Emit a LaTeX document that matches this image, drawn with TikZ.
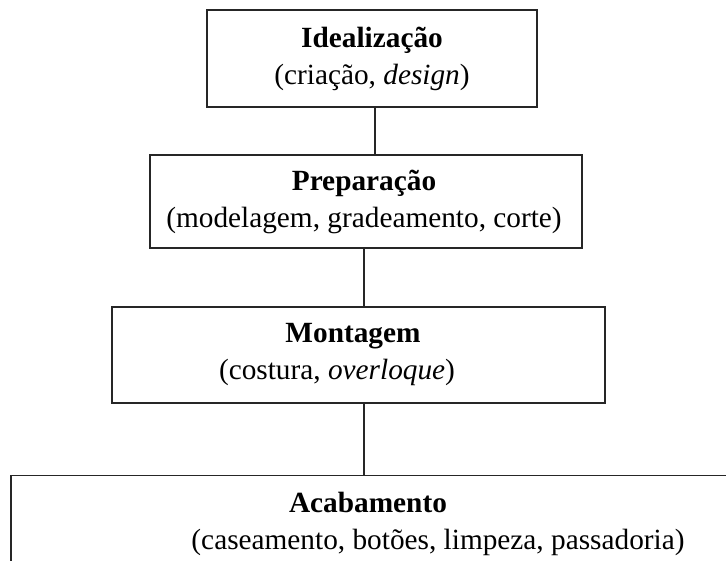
\documentclass[tikz,border=0pt]{standalone}
\usepackage{fontspec}
\setmainfont{Liberation Serif}
\begin{document}
\begin{tikzpicture}[x=1pt,y=-1pt,font=\fontsize{29.3}{37}\selectfont,
	etapa/.style={draw=black!85,line width=1.5pt,inner sep=0pt,align=center},
	liga/.style={draw=black!85,line width=1.5pt}]
	\def\W{726} \def\H{560}
	\useasboundingbox (0,0) rectangle (\W,\H);
	\clip (0,0) rectangle (\W,\H);
	\node[etapa,minimum width=330,minimum height=97] (ideal) at (372,58.5)
		{\textbf{Idealização}\\(criação, \textit{design})};
	\node[etapa,minimum width=432,minimum height=93] (prep) at (366,201.5)
		{\textbf{Preparação}\hspace*{4pt}\\(modelagem, gradeamento, corte)\hspace*{4pt}};
	\node[etapa,minimum width=493,minimum height=96] (mont) at (358.5,355)
		{\textbf{Montagem}\hspace*{11pt}\\(costura, \textit{overloque})\hspace*{43pt}};
	\node[etapa,minimum width=729,minimum height=97] (acab) at (375.5,524)
		{\textbf{Acabamento}\hspace*{15pt}\\\hspace*{125pt}(caseamento, botões, limpeza, passadoria)};
	%===========================================
	\draw[liga] ([xshift=3pt]ideal.south) -- ([xshift=3pt]ideal.south |- prep.north);
	\draw[liga] ([xshift=-2pt]prep.south) -- ([xshift=-2pt]prep.south |- mont.north);
	\draw[liga] ([xshift=-2pt]prep.south |- mont.south) -- ([xshift=-2pt]prep.south |- acab.north);
\end{tikzpicture}
\end{document}
